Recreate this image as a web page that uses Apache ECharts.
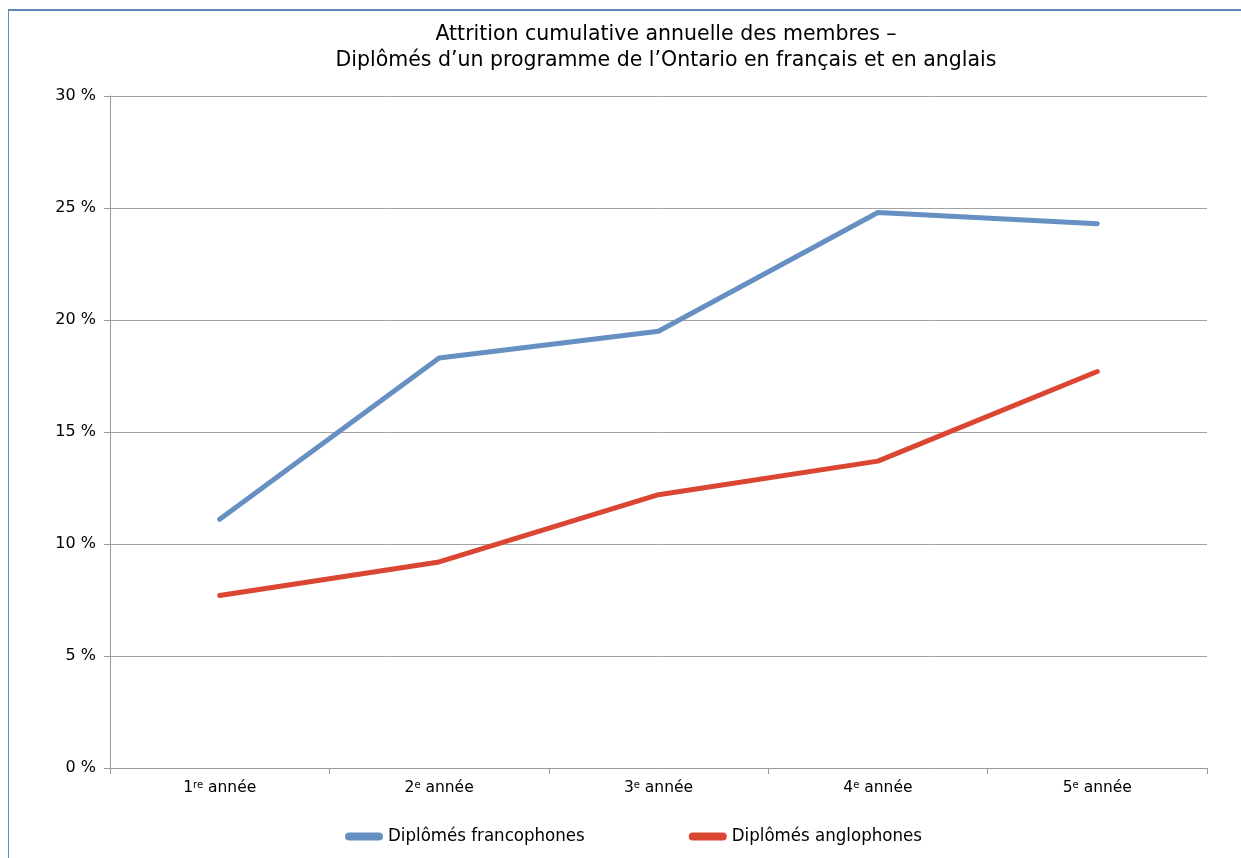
<!DOCTYPE html>
<html><head><meta charset="utf-8">
<script src="https://cdn.jsdelivr.net/npm/echarts@6/dist/echarts.min.js"></script>
<style>
html,body{margin:0;padding:0;background:#fff;overflow:hidden}
#frame{position:absolute;left:8px;top:9px;width:1300px;height:900px;border-top:2px solid #5f88bd;border-left:1px solid #5f88bd}
#chart{position:absolute;left:0;top:0;width:1241px;height:858px}
</style></head>
<body>
<div id="frame"></div>
<div id="chart"></div>
<script>
const titleLines = ["Attrition cumulative annuelle des membres \u2013", "Diplômés d\u2019un programme de l\u2019Ontario en français et en anglais"];
const categories = ["1re année", "2e année", "3e année", "4e année", "5e année"];
const seriesNames = ["Diplômés francophones", "Diplômés anglophones"];
const francophones = [11.1, 18.3, 19.5, 24.8, 24.3];
const anglophones = [7.7, 9.2, 12.2, 13.7, 17.7];
const yTicks = [0, 5, 10, 15, 20, 25, 30];

const font = "'DejaVu Sans', sans-serif";
const chart = echarts.init(document.getElementById('chart'), null, {renderer: 'canvas'});
const capsule = 'path://M4,0 L34,0 A4,4 0 0 1 34,8 L4,8 A4,4 0 0 1 4,0 Z';
chart.setOption({
  animation: false,
  backgroundColor: 'transparent',
  title: {
    text: titleLines.join('\n'),
    left: 661, top: 17, textAlign: 'center',
    textStyle: {fontFamily: font, fontSize: 20.5, fontWeight: 'normal', color: '#000', lineHeight: 26}
  },
  legend: {
    bottom: 7, left: 340,
    itemGap: 104, itemWidth: 38, itemHeight: 8,
    icon: capsule,
    textStyle: {fontFamily: "'DejaVu Sans Condensed', 'Liberation Sans Narrow', sans-serif", fontSize: 18.5, color: '#000'},
    data: seriesNames
  },
  grid: {left: 110, right: 34, top: 96, bottom: 90, containLabel: false},
  xAxis: {
    type: 'category', data: categories, boundaryGap: true,
    axisLine: {lineStyle: {color: '#999', width: 1}},
    axisTick: {show: true, length: 6, lineStyle: {color: '#999'}},
    axisLabel: {
      margin: 12,
      formatter: function (v) {
        const m = v.match(/^(\d)(\S+)\s(.*)$/);
        return '{n|' + m[1] + '}{s|' + m[2] + '}{n| ' + m[3] + '}';
      },
      rich: {
        n: {fontFamily: font, fontSize: 15.5, color: '#000'},
        s: {fontFamily: font, fontSize: 10, color: '#000', verticalAlign: 'top', padding: [0, 0, 6, 0]}
      }
    }
  },
  yAxis: {
    type: 'value', min: 0, max: 30, interval: 5,
    axisLine: {show: true, lineStyle: {color: '#999', width: 1}},
    axisTick: {show: true, length: 6, lineStyle: {color: '#999'}},
    splitLine: {lineStyle: {color: '#a3a3a3', width: 1}},
    axisLabel: {
      margin: 14,
      formatter: function (v) { return yTicks.includes(v) ? v + ' %' : ''; },
      fontFamily: font, fontSize: 16, color: '#000'
    }
  },
  series: [
    {name: seriesNames[0], type: 'line', data: francophones, symbol: 'none', showSymbol: false,
     lineStyle: {color: '#6690c2', width: 5, cap: 'round', join: 'round'}, itemStyle: {color: '#6690c2'}},
    {name: seriesNames[1], type: 'line', data: anglophones, symbol: 'none', showSymbol: false,
     lineStyle: {color: '#da4632', width: 5, cap: 'round', join: 'round'}, itemStyle: {color: '#da4632'}}
  ]
});
</script>
</body></html>
